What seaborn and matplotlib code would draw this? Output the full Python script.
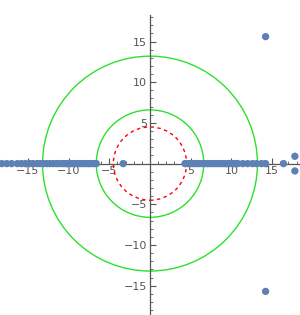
import numpy as np
import pandas as pd
import matplotlib
matplotlib.use("Agg")
import matplotlib.pyplot as plt
from matplotlib.patches import Circle
from matplotlib.ticker import FixedLocator
import seaborn as sns

neg_re = [-18.2, -17.6, -17.0, -16.3, -15.8, -15.3, -14.8, -14.4, -13.9, -13.5,
          -13.1, -12.7, -12.3, -11.9, -11.5, -11.2, -10.8, -10.5, -10.2, -9.9,
          -9.6, -9.3, -9.0, -8.7, -8.4, -8.1, -7.8, -7.5, -7.2, -6.9, -6.6, -3.3]
pos_re = [4.3, 4.6, 4.9, 5.2, 5.5, 5.8, 6.1, 6.4, 6.7, 7.0, 7.3, 7.6, 7.9, 8.2,
          8.5, 8.8, 9.1, 9.4, 9.7, 10.0, 10.3, 10.6, 10.8, 11.4, 12.0, 12.6,
          13.1, 13.7, 14.2, 16.4]
extra_re = [14.2, 14.2, 17.8, 17.8]
extra_im = [15.6, -15.7, 0.9, -0.9]

# circle radii
green_radii = [6.6, 13.2]
red_radius = 4.5

ticks_major = [-15, -10, -5, 5, 10, 15]
ticks_minor = list(range(-18, 19))

df = pd.DataFrame({
    "re": neg_re + pos_re + extra_re,
    "im": [0.0] * (len(neg_re) + len(pos_re)) + extra_im,
})

sns.set_style("white")
plt.rcParams['font.family'] = ['DejaVu Sans']

fig = plt.figure(figsize=(3.0, 3.15), dpi=100)
ax = fig.add_axes([0, 0, 1, 1])

for r in green_radii:
    ax.add_patch(Circle((0, 0), r, fill=False, color="#2ee02e", lw=1.0))
ax.add_patch(Circle((0, 0), red_radius, fill=False, color="red", lw=1.0,
                    ls=(0, (2.5, 2.5))))

sns.scatterplot(data=df, x="re", y="im", ax=ax, color="#5E81B5", s=28,
                edgecolor="none", zorder=3, clip_on=False)

ax.set_xlim(-18.4, 18.4)
ax.set_ylim(-18.6, 20.1)
ax.set_aspect("equal")

# axes through the origin
ax.spines["left"].set_position(("data", 0))
ax.spines["bottom"].set_position(("data", 0))
ax.spines["right"].set_visible(False)
ax.spines["top"].set_visible(False)
ax.spines["left"].set_bounds(-18.6, 18.3)
for s in ["left", "bottom"]:
    ax.spines[s].set_color("#555555")
    ax.spines[s].set_linewidth(0.9)
    ax.spines[s].set_zorder(1)

ax.set_xticks(ticks_major)
ax.set_yticks(ticks_major)
ax.xaxis.set_minor_locator(FixedLocator(ticks_minor))
ax.yaxis.set_minor_locator(FixedLocator(ticks_minor))
ax.tick_params(which="major", direction="in", length=4, width=0.8,
               color="#555555", labelsize=8, labelcolor="#555555", pad=2)
ax.tick_params(which="minor", direction="in", length=2.2, width=0.6,
               color="#555555")
ax.tick_params(axis="x", which="both", bottom=True)
ax.tick_params(axis="y", which="both", left=True)
ax.set_xlabel("")
ax.set_ylabel("")

fig.savefig("out.png", dpi=100)
